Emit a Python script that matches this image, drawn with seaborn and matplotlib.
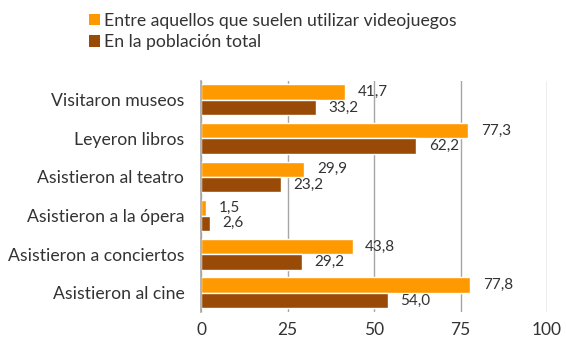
import matplotlib
matplotlib.use("Agg")
import matplotlib.pyplot as plt
from matplotlib.patches import Patch
import seaborn as sns
import pandas as pd

categories = ["Visitaron museos", "Leyeron libros", "Asistieron al teatro",
              "Asistieron a la ópera", "Asistieron a conciertos", "Asistieron al cine"]
series_names = ["Entre aquellos que suelen utilizar videojuegos", "En la población total"]
gamers = [41.7, 77.3, 29.9, 1.5, 43.8, 77.8]
total = [33.2, 62.2, 23.2, 2.6, 29.2, 54.0]
xticks = [0, 25, 50, 75, 100]
colors = ["#FF9900", "#994A06"]

df = pd.DataFrame({
    "categoria": categories * 2,
    "serie": [series_names[0]] * len(categories) + [series_names[1]] * len(categories),
    "valor": gamers + total,
})

sns.set_theme(style="white")
plt.rcParams["font.family"] = ["Lato", "DejaVu Sans"]
text_color = "#333333"

fig = plt.figure(figsize=(5.66, 3.38), dpi=100)
ax = fig.add_axes([201 / 566, 1 - 312 / 338, 346 / 566, 231.5 / 338])

sns.barplot(data=df, y="categoria", x="valor", hue="serie", order=categories,
            hue_order=series_names, palette=colors, orient="h", width=0.8,
            saturation=1, ax=ax, legend=False)

for container in ax.containers:
    labels = [f"{v:.1f}".replace(".", ",") for v in container.datavalues]
    ax.bar_label(container, labels=labels, padding=9, fontsize=11, color=text_color)

ax.set_xlim(0, 100)
ax.set_xticks(xticks)
ax.set_xticklabels([str(t) for t in xticks], fontsize=12.5, color=text_color)
ax.tick_params(axis="y", labelsize=12.7, labelcolor=text_color, length=0, pad=12)
ax.tick_params(axis="x", length=0, pad=7)
ax.set_xlabel("")
ax.set_ylabel("")
ax.xaxis.grid(True, color="#A6A6A6", linewidth=1)
ax.set_axisbelow(True)
for side in ["top", "right", "bottom"]:
    ax.spines[side].set_visible(False)
ax.spines["left"].set_color("#A6A6A6")
ax.spines["left"].set_linewidth(1.2)

handles = [Patch(facecolor=c, edgecolor="none") for c in colors]
fig.legend(handles, series_names, loc="upper left", bbox_to_anchor=(89 / 566, 1 - 13 / 338),
           frameon=False, fontsize=12.7, handlelength=0.6, handleheight=0.6,
           handletextpad=0.25, labelspacing=0.3, borderaxespad=0, borderpad=0,
           labelcolor=text_color)

fig.savefig("out.png", dpi=100)
